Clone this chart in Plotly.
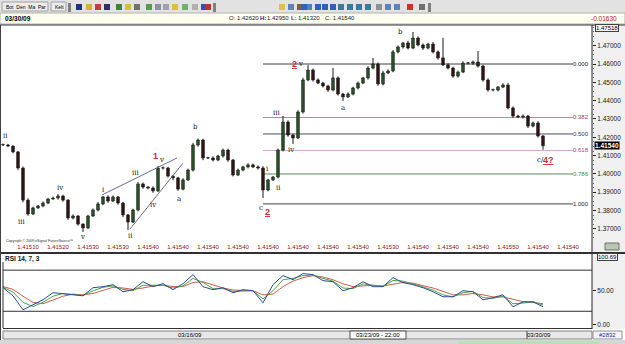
import plotly.graph_objects as go

W, H = 625, 344

# ---------------- data ----------------
closes = [
    1.4158, 1.4152, 1.4120, 1.4032, 1.3857, 1.3781, 1.3814, 1.3825, 1.3841, 1.3863,
    1.3868, 1.3879, 1.3857, 1.3759, 1.3770, 1.3726, 1.3705, 1.3770, 1.3803, 1.3836,
    1.3874, 1.3852, 1.3874, 1.3841, 1.3776, 1.3737, 1.3803, 1.3945, 1.3928, 1.3923,
    1.3907, 1.4032, 1.4032, 1.3988, 1.3978, 1.3917, 1.3967, 1.4021, 1.4158, 1.4185,
    1.4087, 1.4087, 1.4076, 1.4098, 1.4130, 1.4076, 1.3994, 1.4021, 1.4038, 1.4049,
    1.4038, 1.4032, 1.3912, 1.3967, 1.3983, 1.4130, 1.4283, 1.4212, 1.4196, 1.4338,
    1.4513, 1.4567, 1.4513, 1.4496, 1.4480, 1.4458, 1.4524, 1.4436, 1.4420, 1.4436,
    1.4469, 1.4496, 1.4524, 1.4578, 1.4600, 1.4491, 1.4551, 1.4562, 1.4666, 1.4693,
    1.4715, 1.4687, 1.4742, 1.4704, 1.4687, 1.4709, 1.4666, 1.4633, 1.4595, 1.4578,
    1.4534, 1.4556, 1.4605, 1.4605, 1.4611, 1.4589, 1.4513, 1.4458, 1.4458, 1.4474,
    1.4485, 1.4360, 1.4316, 1.4311, 1.4316, 1.4261, 1.4278, 1.4207, 1.4154,
]
first_open = 1.4160
upper_wick_pips = [
    6, 5, 4, 5, 8, 10, 7, 5, 9, 6,
    8, 12, 7, 5, 9, 6, 4, 7, 8, 10,
    6, 9, 8, 5, 6, 4, 7, 10, 8, 6,
    9, 12, 8, 7, 5, 6, 9, 8, 12, 8,
    7, 6, 9, 6, 8, 7, 5, 8, 6, 9,
    7, 8, 10, 6, 5, 8, 33, 9, 6, 10,
    12, 27, 8, 9, 7, 6, 55, 8, 6, 9,
    7, 8, 6, 10, 33, 8, 12, 9, 10, 8,
    6, 12, 33, 9, 8, 7, 11, 8, 110, 9,
    7, 8, 10, 6, 8, 60, 7, 9, 8, 6,
    10, 12, 8, 7, 9, 6, 8, 10, 5,
]
lower_wick_pips = [
    5, 6, 8, 10, 12, 10, 6, 5, 7, 6,
    5, 8, 9, 10, 7, 9, 22, 6, 5, 8,
    7, 10, 6, 9, 12, 44, 6, 8, 9, 7,
    10, 6, 8, 7, 12, 9, 7, 6, 8, 10,
    12, 6, 8, 7, 9, 10, 8, 6, 7, 8,
    6, 9, 44, 7, 6, 8, 7, 9, 33, 6,
    8, 7, 9, 6, 8, 10, 7, 8, 22, 6,
    7, 8, 6, 9, 7, 10, 8, 6, 7, 8,
    9, 7, 6, 8, 10, 7, 8, 9, 6, 7,
    10, 8, 6, 7, 9, 8, 10, 9, 7, 8,
    6, 8, 9, 7, 8, 10, 7, 9, 22,
]

bars = list(range(len(closes)))
opens = [first_open] + closes[:-1]
highs = [round(max(o, c) + u * 0.0001, 4) for o, c, u in zip(opens, closes, upper_wick_pips)]
lows = [round(min(o, c) - l * 0.0001, 4) for o, c, l in zip(opens, closes, lower_wick_pips)]

# Fibonacci retracement
fib_high = 1.4600
fib_low = 1.3836
fib_ratios = [0.0, 0.382, 0.5, 0.618, 0.786, 1.0]
fib_labels = ["0.000", "0.382", "0.500", "0.618", "0.786", "1.000"]
fib_line_colors = ["#404040", "#b08898", "#4a4a6a", "#d0a8d0", "#5a8a5a", "#404040"]
fib_text_colors = ["#202020", "#a04040", "#303090", "#a040a0", "#309030", "#202020"]
fib_from_bar = 52
fib_to_bar = 114

# wedge trend lines (bar, price)
wedge_upper = [(19.8, 1.3885), (34.8, 1.4087)]
wedge_lower = [(25.4, 1.3699), (36.0, 1.4059)]

# RSI 14, 7, 3
rsi_bars = list(range(0, 109, 2))
rsi_fast = [
    54.4, 42.6, 22.1, 29.4, 36.8, 47.1, 45.6, 44.1, 42.6, 54.4,
    55.9, 58.8, 48.5, 51.5, 63.2, 55.9, 60.3, 51.5, 60.3, 73.5,
    55.9, 51.5, 54.4, 47.1, 51.5, 50.0, 32.4, 58.8, 72.1, 66.2,
    75.0, 73.5, 64.7, 63.2, 50.0, 54.4, 63.2, 55.9, 55.9, 69.1,
    61.8, 58.8, 54.4, 48.5, 41.2, 41.2, 50.0, 48.5, 36.8, 39.7,
    44.1, 26.5, 33.8, 33.8, 26.5,
]
rsi_mid = [
    55, 48, 33, 27, 33, 42, 46, 45, 43, 50,
    55, 57, 52, 50, 58, 58, 58, 54, 57, 68,
    62, 53, 53, 49, 50, 50, 38, 50, 66, 68,
    72, 73, 68, 64, 54, 53, 60, 58, 56, 65,
    64, 60, 56, 51, 44, 41, 47, 49, 40, 39,
    42, 31, 32, 34, 29,
]
rsi_slow = [
    56, 52, 42, 33, 31, 36, 42, 45, 44, 46,
    51, 55, 54, 52, 54, 57, 58, 56, 56, 62,
    63, 58, 54, 51, 50, 50, 44, 45, 56, 64,
    69, 72, 70, 66, 60, 56, 57, 58, 57, 60,
    62, 61, 58, 54, 49, 44, 44, 46, 44, 41,
    41, 37, 34, 33, 31,
]
rsi_levels = [80, 20]

price_ticks = [1.37, 1.38, 1.39, 1.40, 1.41, 1.42, 1.43, 1.44, 1.45, 1.46, 1.47]
x_tick_bars = [5, 11, 17, 23, 29, 35, 41, 47, 53, 59, 65, 71, 77, 83, 89, 95, 101, 107, 113]
x_tick_text = ["1.41510", "1.41520", "1.41530", "1.41530", "1.41540", "1.41540", "1.41540",
               "1.41540", "1.41540", "1.41540", "1.41540", "1.41540", "1.41530", "1.41540",
               "1.41540", "1.41540", "1.41550", "1.41540", "1.41540"]

# ---------------- helpers ----------------
def px(x):
    return x / W


def py(y):
    return 1 - y / H


X_RANGE = [-0.6, 117.8]
PRICE_RANGE = [1.3639, 1.4813]
RSI_RANGE = [-4.4, 103.6]
XDOM = [0, px(592)]

fig = go.Figure()

# wicks
wx, wy = [], []
for i, lo, hi in zip(bars, lows, highs):
    wx += [i, i, None]
    wy += [lo, hi, None]
fig.add_trace(go.Scatter(x=wx, y=wy, mode="lines", line=dict(color="#181818", width=1),
                         xaxis="x", yaxis="y", showlegend=False, hoverinfo="skip"))

# bodies
body_base = [min(o, c) for o, c in zip(opens, closes)]
body_len = [max(abs(c - o), 0.00012) for o, c in zip(opens, closes)]
body_col = ["#3e8a3e" if c >= o else "#4a1616" for o, c in zip(opens, closes)]
fig.add_trace(go.Bar(x=bars, y=body_len, base=body_base, width=0.56,
                     marker=dict(color=body_col, line=dict(color="#141414", width=0.6)),
                     xaxis="x", yaxis="y", showlegend=False, hoverinfo="skip"))

for (a, b) in [wedge_upper, wedge_lower]:
    fig.add_trace(go.Scatter(x=[a[0], b[0]], y=[a[1], b[1]], mode="lines",
                             line=dict(color="#6a6a9a", width=1), xaxis="x", yaxis="y",
                             showlegend=False, hoverinfo="skip"))

fig.add_trace(go.Scatter(x=rsi_bars, y=rsi_slow, mode="lines", line=dict(color="#c8604a", width=1),
                         xaxis="x2", yaxis="y2", showlegend=False, hoverinfo="skip"))
fig.add_trace(go.Scatter(x=rsi_bars, y=rsi_mid, mode="lines", line=dict(color="#4aa84a", width=1),
                         xaxis="x2", yaxis="y2", showlegend=False, hoverinfo="skip"))
fig.add_trace(go.Scatter(x=rsi_bars, y=rsi_fast, mode="lines", line=dict(color="#2a4a9a", width=1),
                         xaxis="x2", yaxis="y2", showlegend=False, hoverinfo="skip"))

shapes = []
ann = []


def rect(x0, y0, x1, y1, fill, line=None, lw=1, layer="below"):
    shapes.append(dict(type="rect", xref="paper", yref="paper", x0=px(x0), x1=px(x1), y0=py(y1), y1=py(y0),
                       fillcolor=fill, line=dict(color=line or fill, width=lw if line else 0), layer=layer))


def hline(x0, x1, y, color, width=1, layer="above"):
    shapes.append(dict(type="line", xref="paper", yref="paper", x0=px(x0), x1=px(x1), y0=py(y), y1=py(y),
                       line=dict(color=color, width=width), layer=layer))


def vline(x, y0, y1, color, width=1, layer="above"):
    shapes.append(dict(type="line", xref="paper", yref="paper", x0=px(x), x1=px(x), y0=py(y0), y1=py(y1),
                       line=dict(color=color, width=width), layer=layer))


def text(t, x, y, size=7, color="#000000", xanchor="left", family="Liberation Sans", bg=None, border=None):
    d = dict(text=t, xref="paper", yref="paper", x=px(x), y=py(y), xanchor=xanchor, yanchor="middle",
             showarrow=False, font=dict(size=size, color=color, family=family))
    if bg:
        d["bgcolor"] = bg
        d["borderpad"] = 0
    if border:
        d["bordercolor"] = border
        d["borderwidth"] = 1
    ann.append(d)


# toolbar
rect(0, 0, 625, 13, "#e2e2e2")
rect(2, 2, 48, 11, "#ececec", "#a0a0a0")
rect(51, 2, 66, 11, "#ececec", "#a0a0a0")
text("Bot  Den  Ma  Par", 4, 7, size=5)
text("Kelt", 53, 7, size=5)
for hx in [68, 213, 428]:
    rect(hx, 3, hx + 3, 12, "#808080")
icon_specs = [(76, "#203080"), (86, "#d8b030"), (95, "#c04040"), (104, "#303060"), (116, "#408040"),
              (125, "#d0c040"), (134, "#707070"), (146, "#50a050"), (155, "#9090a0"), (163, "#a0a0b0"),
              (172, "#d8c040"), (182, "#70b070"), (192, "#b0b0b0"), (201, "#3050c0"), (205, "#c03030"),
              (279, "#e0c050"), (288, "#6080c0"), (297, "#806040"), (306, "#5080c0"), (315, "#3060c0"),
              (301, "#3060c0"), (322, "#3060c0"), (330, "#3060c0"), (338, "#3a7a9a"), (347, "#3a7a9a"),
              (356, "#3a7a9a"), (365, "#3a7a9a"), (376, "#909090"), (385, "#6080c0"), (394, "#6080c0"),
              (407, "#d03030"), (419, "#707070")]
for ix, col in icon_specs:
    rect(ix, 4, ix + 6, 10, col)

# info bar
rect(0, 13, 625, 24, "#fffff0", "#b0b0b0")
text("<b>03/30/09</b>", 3, 18.5, size=6.5)
text("O: 1.42620", 227, 18.5, size=6, color="#202020")
text("<b>H:</b>", 258, 18.5, size=6, color="#1020b0")
text("1.42950", 265, 18.5, size=6, color="#202020")
text("<b>L:</b>", 289, 18.5, size=6, color="#c01010")
text("1.41320", 296, 18.5, size=6, color="#202020")
text("C: 1.41540", 323, 18.5, size=6, color="#202020")
text("-0.01630", 619, 18.5, size=6.5, color="#c01010", xanchor="right")
hline(0, 625, 25, "#303030", 1)

# right axis panels
rect(592, 25, 625, 252, "#f0f0f0")
rect(592, 254, 625, 329, "#f0f0f0")
vline(592, 25, 252, "#202020")
vline(592, 254, 329, "#202020")
rect(605, 243, 619, 250, "#b8c8b0", "#707070")

# main separator and rsi frame
hline(0, 625, 253, "#303030", 2)
vline(3, 262, 328, "#303030")
hline(3, 592, 328.5, "#303030")
vline(0.5, 25, 340, "#404040", 1)

# date bar
rect(3, 331, 592, 339, "#e8e8e8", "#808080")
rect(350, 331, 406, 339, "#fafafa", "#505050")
vline(527, 331, 339, "#505050")
rect(593, 331, 622, 339, "#f4f4fa", "#909090")
rect(0, 340, 625, 344, "#d6d6d6")
rect(458, 341, 600, 344, "#b8e0b8")
text("03/16/09", 190, 335, size=6, xanchor="center")
text("03/23/09 - 22:00", 378, 335, size=6, xanchor="center")
text("03/30/09", 539, 335, size=6, xanchor="center")
text("#2832", 607, 335, size=6, color="#2030a0", xanchor="center")

# price / rsi boxes on right axes
text("1.47518", 607, 28, size=6, xanchor="center", bg="#f8f8f8", border="#404040")
text("<b>1.41540</b>", 607, 145, size=6.5, color="#ffffff", xanchor="center", bg="#000000")
text("100.69", 607, 256.5, size=6, xanchor="center", bg="#f8f8f8", border="#404040")

# labels
text("Copyright © 2009 eSignal FutureSource™", 4, 241, size=3.6, color="#303030")
text("<b>RSI 14, 7, 3</b>", 3, 259, size=6.5, color="#101010")

# rsi level lines
for lv in rsi_levels:
    shapes.append(dict(type="line", xref="paper", yref="y2", x0=px(3), x1=px(592), y0=lv, y1=lv,
                       line=dict(color="#303030", width=1), layer="below"))

# fibonacci lines & labels
for r, lab, lc, tc in zip(fib_ratios, fib_labels, fib_line_colors, fib_text_colors):
    lvl = fib_high - r * (fib_high - fib_low)
    shapes.append(dict(type="line", xref="x", yref="y", x0=fib_from_bar, x1=fib_to_bar, y0=lvl, y1=lvl,
                       line=dict(color=lc, width=1), layer="below"))
    ann.append(dict(text=lab, xref="paper", yref="y", x=px(591), y=lvl, xanchor="right", yanchor="middle",
                    showarrow=False, font=dict(size=6, color=tc, family="Liberation Sans")))

# elliott wave labels
wave_black = [("ii", 6, 136), ("iii", 21, 222), ("iv", 60, 188), ("v", 82, 237), ("i", 103, 190),
              ("ii", 130, 236), ("iii", 135, 173), ("v", 161, 160), ("iv", 153, 205), ("a", 179, 199),
              ("b", 195, 127), ("c", 261, 208), ("i", 267, 169), ("ii", 278, 188), ("iii", 276, 113),
              ("iv", 291, 150), ("v", 300, 64), ("a", 343, 108), ("b", 400, 32), ("c/", 540, 160)]
for t, x, y in wave_black:
    text(t, x, y, size=7, color="#111111", xanchor="center", family="DejaVu Serif")
wave_red = [("1", 155, 156), ("<u>2</u>", 267, 212), ("<u>2</u>", 294, 64), ("<u>4?</u>", 548, 160)]
for t, x, y in wave_red:
    text("<b>" + t + "</b>", x, y, size=9, color="#cc2a2a", xanchor="center")

fig.update_layout(
    width=W, height=H, margin=dict(l=0, r=0, t=0, b=0),
    paper_bgcolor="#ffffff", plot_bgcolor="rgba(0,0,0,0)",
    showlegend=False, shapes=shapes, annotations=ann, barmode="overlay",
    xaxis=dict(domain=XDOM, range=X_RANGE, anchor="y", showgrid=False, zeroline=False,
               tickmode="array", tickvals=x_tick_bars,
               ticktext=x_tick_text, ticks="", ticklabelstandoff=2,
               tickfont=dict(size=6, color="#8a1414", family="Liberation Sans")),
    yaxis=dict(domain=[py(240), py(25)], range=PRICE_RANGE, anchor="x", side="right",
               showgrid=False, zeroline=False, showline=False, ticks="outside", ticklen=3,
               tickcolor="#202020", tickmode="array", tickvals=price_ticks, tickformat=".5f",
               tickfont=dict(size=6.5, color="#202020", family="Liberation Sans"),
               minor=dict(ticks="outside", ticklen=1, dtick=0.0025, tickcolor="#606060")),
    xaxis2=dict(domain=XDOM, range=X_RANGE, anchor="y2", showgrid=False, zeroline=False,
                showticklabels=False, ticks=""),
    yaxis2=dict(domain=[py(328), py(254)], range=RSI_RANGE, anchor="x2", side="right",
                showgrid=False, zeroline=False, showline=False, ticks="outside", ticklen=3,
                tickcolor="#202020", tickmode="array", tickvals=[0, 50], ticktext=["0.00", "50.00"],
                tickfont=dict(size=6.5, color="#202020", family="Liberation Sans")),
)

fig.write_html("out.html", config={"displayModeBar": False})
